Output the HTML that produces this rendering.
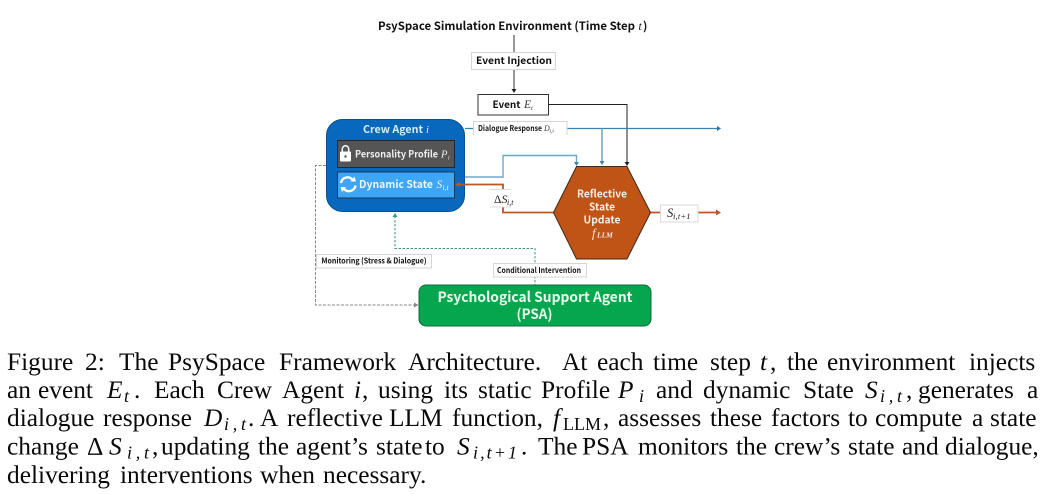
<!DOCTYPE html>
<html><head><meta charset="utf-8">
<style>
html,body{margin:0;padding:0;background:#fff;width:1053px;height:494px;overflow:hidden}
svg{display:block}
.d{font-family:"Noto Sans CJK SC","Liberation Sans",sans-serif;font-weight:bold}
.m{font-family:"Liberation Serif",serif;font-style:italic}
.c{font-family:"Liberation Serif",serif;font-size:25.4px;fill:#0a0a0a}
.i{font-style:italic}
.s{font-size:18px}
</style></head><body>
<svg width="1053" height="494" viewBox="0 0 1053 494" xmlns="http://www.w3.org/2000/svg">
<rect width="1053" height="494" fill="#fff"/>
<!-- title -->
<text class="d" x="378" y="30" font-size="11.500" fill="#111" textLength="257" lengthAdjust="spacingAndGlyphs">PsySpace Simulation Environment (Time Step</text>
<text class="m" x="638.500" y="30" font-size="11.500" fill="#111">t</text>
<text class="d" x="643" y="30" font-size="11.500" fill="#111">)</text>
<!-- connectors -->
<line x1="514" y1="35" x2="514" y2="52" stroke="#333" stroke-width="1"/>
<line x1="514" y1="69" x2="514" y2="90" stroke="#333" stroke-width="1"/>
<polygon points="511.500,89 516.500,89 514,93" fill="#222"/>
<polyline points="549,104.500 627,104.500 627,163" fill="none" stroke="#222" stroke-width="1"/>
<polygon points="624.500,162 629.500,162 627,166" fill="#222"/>
<!-- blue -->
<line x1="465" y1="128.500" x2="718" y2="128.500" stroke="#3f81ad" stroke-width="1.300"/>
<polygon points="717,126 721,128.500 717,131" fill="#2e75a8"/>
<line x1="602" y1="128.500" x2="602" y2="162" stroke="#6a9fc0" stroke-width="1.400"/>
<polygon points="599.500,161 604.500,161 602,165" fill="#3f81ad"/>
<polyline points="465,177 503,177 503,155.500 576.500,155.500 576.500,163" fill="none" stroke="#6fa8c8" stroke-width="1.400"/>
<polygon points="574,162 579,162 576.500,166" fill="#3f81ad"/>
<!-- dashed grey (behind crew) -->
<polyline points="326,165.500 315.500,165.500 315.500,305 415,305" fill="none" stroke="#888" stroke-width="1" stroke-dasharray="3 1.500"/>
<polygon points="414,302.500 418.500,305 414,307.500" fill="#888"/>
<!-- crew -->
<rect x="326.500" y="119.500" width="138" height="92" rx="16" fill="#0868bd" stroke="#0a4f8f" stroke-width="1"/>
<text class="d" x="363" y="133" font-size="10.500" fill="#d5ecff" textLength="60" lengthAdjust="spacingAndGlyphs">Crew Agent</text>
<text class="m" x="426" y="133" font-size="11" fill="#d5ecff">i</text>
<rect x="337.500" y="140.500" width="117" height="27" fill="#555" stroke="#1a2a3a" stroke-width="1"/>
<rect x="340" y="151.500" width="11" height="10" rx="1" fill="#fff"/>
<path d="M342.300 152v-3a3.200 3.200 0 0 1 6.400 0v3" fill="none" stroke="#fff" stroke-width="1.500"/>
<circle cx="345.500" cy="156.500" r="1.200" fill="#555"/>
<text class="d" x="355" y="157.500" font-size="9.800" fill="#f0f0f0" textLength="83" lengthAdjust="spacingAndGlyphs">Personality Profile</text>
<text class="m" x="441" y="157.500" font-size="10.500" fill="#f0f0f0">P</text>
<text class="m" x="448" y="159.500" font-size="6" fill="#f0f0f0">i</text>
<rect x="337.500" y="172" width="117" height="26" fill="#3fa5f5" stroke="#143a5c" stroke-width="1"/>
<path d="M341 183a6.500 6.500 0 0 1 11.500-3.200" fill="none" stroke="#fff" stroke-width="2.400"/>
<polygon points="350.500,181.500 356,181.500 354.500,176.500" fill="#fff"/>
<path d="M355.500 185.500a6.500 6.500 0 0 1-11.500 3.200" fill="none" stroke="#fff" stroke-width="2.400"/>
<polygon points="346,187 340.500,187 342,192" fill="#fff"/>
<text class="d" x="359" y="188" font-size="10.500" fill="#eaf6ff" textLength="74" lengthAdjust="spacingAndGlyphs">Dynamic State</text>
<text class="m" x="436.500" y="188" font-size="11.500" fill="#eaf6ff">S</text>
<text class="m" x="442.500" y="190" font-size="7.500" fill="#eaf6ff">i,t</text>
<!-- brown connectors -->
<polyline points="458,184.500 503,184.500 503,190" fill="none" stroke="#b9562a" stroke-width="1.800"/>
<polygon points="460,182 455,184.500 460,187" fill="#b9562a"/>
<polyline points="503,206 503,212.500 555,212.500" fill="none" stroke="#b9562a" stroke-width="1.800"/>
<line x1="650" y1="212.500" x2="660" y2="212.500" stroke="#b9562a" stroke-width="1.800"/>
<line x1="698" y1="212.500" x2="717" y2="212.500" stroke="#b9562a" stroke-width="1.800"/>
<polygon points="716,209.500 721,212.500 716,215.500" fill="#b9562a"/>
<!-- hexagon -->
<polygon points="553.500,212.500 576.500,166.500 627,166.500 650.500,212.500 627,259 576.500,259" fill="#c05316" stroke="#3d2a1c" stroke-width="1"/>
<g class="d" font-size="10.500" fill="#fbeee4">
<text x="577" y="197.500" textLength="50" lengthAdjust="spacingAndGlyphs">Reflective</text>
<text x="589" y="210.500" textLength="26" lengthAdjust="spacingAndGlyphs">State</text>
<text x="583.500" y="223.500" textLength="37" lengthAdjust="spacingAndGlyphs">Update</text>
</g>
<text class="m" x="592" y="237.500" font-size="12.500" fill="#fbeee4">f</text>
<text class="m" x="597" y="237.500" font-size="7.500" fill="#fbeee4" font-weight="bold">LLM</text>
<!-- dashed green -->
<polyline points="395,216 395,248.500 535,248.500 535,285" fill="none" stroke="#3d9a7a" stroke-width="1" stroke-dasharray="2.500 1.500"/>
<polygon points="392.500,217 397.500,217 395,213" fill="#3d9a7a"/>
<!-- PSA -->
<rect x="419" y="285" width="232" height="41" rx="7" fill="#06a64f" stroke="#0d6b3c" stroke-width="1"/>
<text class="d" x="437.500" y="302" font-size="14" fill="#e9fbef" textLength="195" lengthAdjust="spacingAndGlyphs">Psychological Support Agent</text>
<text class="d" x="516.500" y="319" font-size="14" fill="#e9fbef" textLength="36" lengthAdjust="spacingAndGlyphs">(PSA)</text>
<!-- label boxes -->
<rect x="471.500" y="52.500" width="84" height="17" fill="#fff" stroke="#d5d5d5"/>
<text class="d" x="476" y="64" font-size="10" fill="#111" textLength="76" lengthAdjust="spacingAndGlyphs">Event Injection</text>
<rect x="478" y="94.500" width="70.500" height="20.500" fill="#fff" stroke="#333" stroke-width="1"/>
<text class="d" x="492.500" y="108" font-size="10" fill="#111" textLength="28" lengthAdjust="spacingAndGlyphs">Event</text>
<text class="m" x="524" y="108" font-size="11.500" fill="#333">E</text>
<text class="m" x="531" y="110" font-size="6.500" fill="#333">t</text>
<rect x="473.500" y="121.500" width="93.500" height="14" fill="#fff" stroke="#d5d5d5"/>
<rect x="472.500" y="135" width="95.500" height="2" fill="#fff"/>
<text class="d" x="478" y="131" font-size="7.800" fill="#111" textLength="64" lengthAdjust="spacingAndGlyphs">Dialogue Response</text>
<text class="m" x="544" y="131" font-size="8" fill="#444">D</text>
<text class="m" x="549.500" y="132.500" font-size="5.500" fill="#444">i,t</text>
<rect x="490" y="189.500" width="21" height="17.500" fill="#fff"/>
<line x1="490" y1="189.500" x2="511" y2="189.500" stroke="#ddd"/>
<line x1="490" y1="207" x2="511" y2="207" stroke="#ddd"/>
<text x="494" y="203" font-size="11.500" fill="#222" font-family="Liberation Serif, serif">Δ</text>
<text class="m" x="501.500" y="203" font-size="12" fill="#222">S</text>
<text class="m" x="507" y="205" font-size="8" fill="#222">i,t</text>
<rect x="660.500" y="205" width="37.500" height="17" fill="#fff" stroke="#d8d8d8"/>
<text class="m" x="667" y="217" font-size="12.500" fill="#222">S</text>
<text class="m" x="673" y="219" font-size="8.500" fill="#222" textLength="17.500">i,t+1</text>
<rect x="316.500" y="254.500" width="115" height="13.500" fill="#fff" stroke="#d5d5d5"/>
<text class="d" x="321.500" y="263.500" font-size="7.800" fill="#111" textLength="105" lengthAdjust="spacingAndGlyphs">Monitoring (Stress &amp; Dialogue)</text>
<rect x="493.500" y="263.500" width="93" height="13.500" fill="#fff" stroke="#d5d5d5"/>
<text class="d" x="497" y="273" font-size="7.800" fill="#111" textLength="84" lengthAdjust="spacingAndGlyphs">Conditional Intervention</text>
<!-- caption -->
<g class="c">
<text x="7" y="370">Figure</text><text x="85" y="370">2:</text><text x="119" y="370">The</text><text x="168" y="370">PsySpace</text><text x="279" y="370">Framework</text><text x="408" y="370">Architecture.</text><text x="562" y="370">At</text><text x="597" y="370">each</text><text x="653" y="370">time</text><text x="710" y="370">step</text><text x="760" y="370" class="i">t</text><text x="770" y="370">,</text><text x="787" y="370">the</text><text x="827" y="370">environment</text><text x="969" y="370">injects</text>

<text x="7" y="398">an</text><text x="38" y="398">event</text><text x="107" y="398" class="i">E</text><text x="124" y="402" class="i s">t</text><text x="134" y="398">.</text><text x="154" y="398">Each</text><text x="217" y="398">Crew</text><text x="282" y="398">Agent</text><text x="354" y="398" class="i">i</text><text x="362" y="398">,</text><text x="378" y="398">using</text><text x="444" y="398">its</text><text x="478" y="398">static</text><text x="541" y="398">Profile</text><text x="618" y="398" class="i">P</text><text x="639" y="402" class="i s">i</text><text x="656" y="398">and</text><text x="703" y="398">dynamic</text><text x="803" y="398">State</text><text x="865" y="398" class="i">S</text><text x="880" y="402" class="i s" textLength="22" lengthAdjust="spacing">i,t</text><text x="906" y="398">,</text><text x="918" y="398">generates</text><text x="1027" y="398">a</text>

<text x="7" y="426">dialogue</text><text x="103" y="426">response</text><text x="204" y="426" class="i">D</text><text x="224" y="430" class="i s" textLength="22" lengthAdjust="spacing">i,t</text><text x="248" y="426">.</text><text x="260" y="426">A</text><text x="287" y="426">reflective</text><text x="389" y="426">LLM</text><text x="452" y="426">function,</text><text x="553" y="426" class="i">f</text><text x="563" y="430" class="s">LLM</text><text x="603" y="426">,</text><text x="618" y="426">assesses</text><text x="710" y="426">these</text><text x="771" y="426">factors</text><text x="848" y="426">to</text><text x="875" y="426">compute</text><text x="972" y="426">a</text><text x="990" y="426">state</text>

<text x="7" y="454.500">change</text><text x="87" y="454.500">Δ</text><text x="109" y="454.500" class="i">S</text><text x="127" y="458.500" class="i s" textLength="22" lengthAdjust="spacing">i,t</text><text x="152" y="454.500">,</text><text x="161" y="454.500">updating</text><text x="258" y="454.500">the</text><text x="296" y="454.500">agent’s</text><text x="376" y="454.500">state</text><text x="425" y="454.500">to</text><text x="457" y="454.500" class="i">S</text><text x="473" y="458.500" class="i s" textLength="44" lengthAdjust="spacing">i,t+1</text><text x="521" y="454.500">.</text><text x="538" y="454.500">The</text><text x="582" y="454.500">PSA</text><text x="638" y="454.500">monitors</text><text x="736" y="454.500">the</text><text x="774" y="454.500">crew’s</text><text x="848" y="454.500">state</text><text x="902" y="454.500">and</text><text x="945" y="454.500">dialogue,</text>

<text x="7" y="483">delivering</text><text x="120" y="483">interventions</text><text x="260" y="483">when</text><text x="323" y="483">necessary.</text>
</g>
</svg>
</body></html>
